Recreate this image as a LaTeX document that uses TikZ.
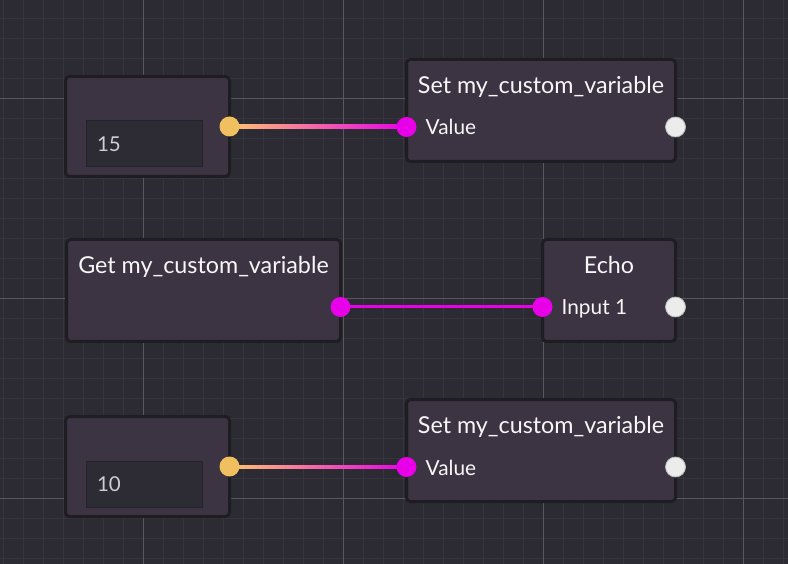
\documentclass[tikz,border=0pt]{standalone}
\usepackage{fontspec}
\setmainfont{Lato}
\usetikzlibrary{positioning, calc, backgrounds}
\definecolor{Canvas}{RGB}{44, 43, 51}
\definecolor{GridMinor}{RGB}{54, 53, 62}
\definecolor{GridMajor}{RGB}{88, 87, 94}
\definecolor{NodeFill}{RGB}{60, 52, 66}
\definecolor{NodeEdge}{RGB}{30, 29, 34}
\definecolor{FieldFill}{RGB}{45, 43, 52}
\definecolor{FieldText}{RGB}{205, 205, 210}
\definecolor{PortYellow}{RGB}{240, 192, 96}
\definecolor{PortMagenta}{RGB}{232, 0, 232}
\definecolor{PortWhite}{RGB}{236, 236, 236}
\definecolor{WireOrange}{RGB}{255, 196, 110}
\definecolor{WirePink}{RGB}{255, 100, 170}
\pgfdeclarelayer{wires}
\pgfsetlayers{background, wires, main}

\begin{document}
\begin{tikzpicture}[x=1pt, y=-1pt,
    block/.style={draw=NodeEdge, fill=NodeFill, line width=3pt, rounded corners=4pt,
        minimum height=102pt, inner sep=0pt, outer sep=0pt},
    field/.style={draw=NodeEdge!60!FieldFill, fill=FieldFill, line width=1pt, text=FieldText,
        font=\fontsize{20.5}{24}\selectfont, text width=94pt, align=left, inner xsep=11pt,
        minimum height=46pt, inner ysep=0pt},
    title/.style={text=white!94!gray, font=\fontsize{23.3}{27}\selectfont, inner sep=0pt, anchor=base},
    pin/.style={text=white!94!gray, font=\fontsize{20.8}{24}\selectfont, inner sep=0pt, anchor=base west},
    port/.style={circle, minimum size=20pt, inner sep=0pt},
    wire/.style={line width=3pt}]
    \useasboundingbox (0, 0) rectangle (788, 564);

    % Canvas and grid
    \begin{pgfonlayer}{background}
        \fill[Canvas] (0, 0) rectangle (788, 564);
        \foreach \x in {3.3, 23.3, ..., 783.3}
            \draw[GridMinor, line width=1pt] (\x, 0) -- (\x, 564);
        \foreach \y in {18.3, 38.3, ..., 563.3}
            \draw[GridMinor, line width=1pt] (0, \y) -- (788, \y);
        \foreach \x in {143.3, 343.3, 543.3, 743.3}
            \draw[GridMajor, line width=1pt] (\x, 0) -- (\x, 564);
        \foreach \y in {98.3, 298.3, 498.3}
            \draw[GridMajor, line width=1pt] (0, \y) -- (788, \y);
    \end{pgfonlayer}

    % Constant 15 -> Set
    \node[block, minimum width=164pt, minimum height=100pt] (const1) at (147.5, 126.5) {};
    \node[field] (const1field) at ($(const1.center)+(-3.5, 17.5)$) {15};
    \node[block, minimum width=269pt] (set1) at (541, 110.5) {};
    \node[title] (set1title) at ($(set1.north)+(0, 34)$) {Set my\_custom\_variable};

    % Get -> Echo
    \node[block, minimum width=274pt] (get) at (203.5, 290.5) {};
    \node[title] (gettitle) at ($(get.north)+(0, 34)$) {Get my\_custom\_variable};
    \node[block, minimum width=133pt] (echo) at (609, 290.5) {};
    \node[title] (echotitle) at ($(echo.north)+(0, 34)$) {Echo};

    % Constant 10 -> Set
    \node[block, minimum width=164pt, minimum height=100pt] (const2) at (147.5, 466.5) {};
    \node[field] (const2field) at ($(const2.center)+(-3.5, 17.5)$) {10};
    \node[block, minimum width=269pt] (set2) at (541, 450.5) {};
    \node[title] (set2title) at ($(set2.north)+(0, 34)$) {Set my\_custom\_variable};

    % Ports
    \node[port, fill=PortYellow] (const1out) at (const1.east) {};
    \node[port, fill=PortMagenta] (set1in) at ($(set1.west)+(0, 16.5)$) {};
    \node[port, fill=PortWhite, draw=gray!55, line width=0.8pt] (set1out) at ($(set1.east)+(0, 16.5)$) {};
    \node[pin] (set1value) at ($(set1in.center)+(19, 8)$) {Value};

    \node[port, fill=PortMagenta] (getout) at ($(get.east)+(0, 16.5)$) {};
    \node[port, fill=PortMagenta] (echoin) at ($(echo.west)+(0, 16.5)$) {};
    \node[port, fill=PortWhite, draw=gray!55, line width=0.8pt] (echoout) at ($(echo.east)+(0, 16.5)$) {};
    \node[pin] (echoinput) at ($(echoin.center)+(19, 8)$) {Input 1};

    \node[port, fill=PortYellow] (const2out) at (const2.east) {};
    \node[port, fill=PortMagenta] (set2in) at ($(set2.west)+(0, 16.5)$) {};
    \node[port, fill=PortWhite, draw=gray!55, line width=0.8pt] (set2out) at ($(set2.east)+(0, 16.5)$) {};
    \node[pin] (set2value) at ($(set2in.center)+(19, 8)$) {Value};

    % Wires
    \begin{pgfonlayer}{wires}
        \shade[left color=WireOrange, middle color=WirePink, right color=PortMagenta]
            ($(const1out.center)+(0, -1.5)$) rectangle ($(set1in.center)+(0, 1.5)$);
        \draw[wire, PortMagenta] (getout.center) -- (echoin.center);
        \shade[left color=WireOrange, middle color=WirePink, right color=PortMagenta]
            ($(const2out.center)+(0, -1.5)$) rectangle ($(set2in.center)+(0, 1.5)$);
    \end{pgfonlayer}
\end{tikzpicture}
\end{document}
